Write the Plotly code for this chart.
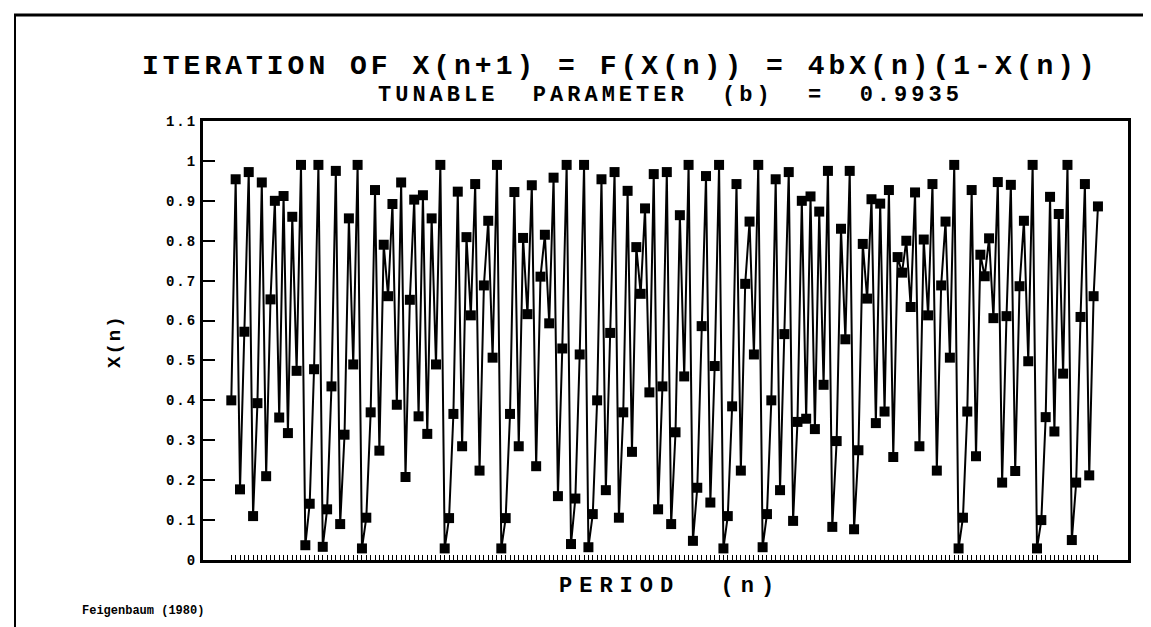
import plotly.graph_objects as go

period = list(range(200))
x_values = [
    0.40, 0.954, 0.177, 0.572, 0.972, 0.11, 0.393, 0.946, 0.21, 0.653,
    0.90, 0.357, 0.912, 0.318, 0.86, 0.474, 0.99, 0.037, 0.141, 0.478,
    0.99, 0.033, 0.127, 0.435, 0.975, 0.09, 0.314, 0.856, 0.49, 0.99,
    0.029, 0.106, 0.37, 0.927, 0.274, 0.79, 0.661, 0.892, 0.389, 0.946,
    0.208, 0.652, 0.903, 0.36, 0.914, 0.316, 0.856, 0.49, 0.99, 0.029,
    0.105, 0.366, 0.923, 0.285, 0.809, 0.613, 0.942, 0.224, 0.688, 0.85,
    0.507, 0.99, 0.029, 0.105, 0.366, 0.922, 0.285, 0.807, 0.616, 0.939,
    0.235, 0.71, 0.815, 0.593, 0.958, 0.16, 0.53, 0.99, 0.04, 0.154,
    0.515, 0.99, 0.032, 0.115, 0.40, 0.954, 0.175, 0.569, 0.972, 0.106,
    0.37, 0.925, 0.271, 0.784, 0.667, 0.881, 0.42, 0.967, 0.127, 0.435,
    0.972, 0.09, 0.32, 0.864, 0.46, 0.99, 0.048, 0.181, 0.586, 0.962,
    0.144, 0.486, 0.99, 0.029, 0.11, 0.385, 0.942, 0.224, 0.692, 0.848,
    0.515, 0.99, 0.032, 0.115, 0.40, 0.954, 0.175, 0.566, 0.972, 0.098,
    0.346, 0.90, 0.354, 0.911, 0.328, 0.873, 0.439, 0.975, 0.083, 0.298,
    0.83, 0.553, 0.975, 0.077, 0.275, 0.792, 0.655, 0.904, 0.343, 0.893,
    0.372, 0.927, 0.258, 0.759, 0.72, 0.80, 0.634, 0.921, 0.285, 0.803,
    0.613, 0.942, 0.224, 0.688, 0.848, 0.507, 0.99, 0.029, 0.106, 0.372,
    0.927, 0.26, 0.765, 0.711, 0.806, 0.606, 0.947, 0.194, 0.611, 0.94,
    0.223, 0.686, 0.85, 0.498, 0.99, 0.029, 0.1, 0.358, 0.91, 0.322,
    0.867, 0.467, 0.99, 0.05, 0.194, 0.609, 0.942, 0.212, 0.661, 0.886,
]
y_tick_vals = [0, 0.1, 0.2, 0.3, 0.4, 0.5, 0.6, 0.7, 0.8, 0.9, 1.0, 1.1]
y_tick_text = ["0", "0.1", "0.2", "0.3", "0.4", "0.5", "0.6", "0.7", "0.8", "0.9", "1", "1.1"]

title_text = "ITERATION OF X(n+1) = F(X(n)) = 4bX(n)(1-X(n))"
subtitle_text = "TUNABLE  PARAMETER  (b)  =  0.9935"
x_title = "PERIOD  (n)"
y_title = "X(n)"
source_text = "Feigenbaum (1980)"

W, H = 1151, 627
L, R, T, B = 195, 1120, 113, 552
FONT = "Liberation Mono"


def px(x):
    return (x - L) / (R - L)


def py(y):
    return (B - y) / (B - T)


def spaced(text, ls):
    return '<span style="letter-spacing:%gpx">%s</span>' % (ls, text)


fig = go.Figure()
fig.add_trace(go.Scatter(
    x=period, y=x_values, mode="lines+markers",
    line=dict(color="black", width=2),
    marker=dict(symbol="square", size=10, color="black"),
    showlegend=False, hoverinfo="x+y",
))

fig.update_layout(
    width=W, height=H,
    margin=dict(l=L, r=W - R, t=T, b=H - B, pad=0),
    paper_bgcolor="white", plot_bgcolor="white",
    font=dict(family=FONT, color="black"),
    xaxis=dict(
        range=[-6.5, 205.9], showgrid=False, zeroline=False,
        tickmode="array", tickvals=period, ticktext=[""] * len(period),
        ticks="inside", ticklen=5, tickwidth=1, tickcolor="black",
        showline=True, linecolor="black", linewidth=3, mirror=True,
    ),
    yaxis=dict(
        range=[0, 1.1], showgrid=False, zeroline=False,
        tickmode="array", tickvals=y_tick_vals,
        ticktext=[spaced(t, 2) for t in y_tick_text],
        ticks="inside", ticklen=12, tickwidth=2, tickcolor="black",
        tickfont=dict(family=FONT, size=14, color="black", weight="bold"),
        showline=True, linecolor="black", linewidth=3, mirror=True,
    ),
)

ann = [
    dict(text=title_text, x=px(612), y=py(58), size=28, ls=4),
    dict(text=subtitle_text, x=px(662), y=py(88), size=22, ls=4),
    dict(text=x_title, x=px(662), y=py(578), size=22, ls=7),
]
for a in ann:
    fig.add_annotation(
        text=spaced(a["text"], a["ls"]), x=a["x"], y=a["y"],
        xref="paper", yref="paper",
        showarrow=False, xanchor="center", yanchor="middle",
        font=dict(family=FONT, size=a["size"], color="black", weight="bold"),
    )
fig.add_annotation(
    text=spaced(y_title, 2), x=px(107), y=py(333), xref="paper", yref="paper",
    showarrow=False, textangle=-90, xanchor="center", yanchor="middle",
    font=dict(family=FONT, size=19, color="black", weight="bold"),
)
fig.add_annotation(
    text=source_text, x=px(72), y=py(603), xref="paper", yref="paper",
    showarrow=False, xanchor="left", yanchor="middle",
    font=dict(family=FONT, size=12, color="black", weight="bold"),
)

# outer page frame
fig.add_shape(type="line", xref="paper", yref="paper",
              x0=px(6), x1=px(1151), y0=py(7), y1=py(7),
              line=dict(color="black", width=3))
fig.add_shape(type="line", xref="paper", yref="paper",
              x0=px(7), x1=px(7), y0=py(7), y1=py(627),
              line=dict(color="black", width=2))

fig.write_html("out.html")
